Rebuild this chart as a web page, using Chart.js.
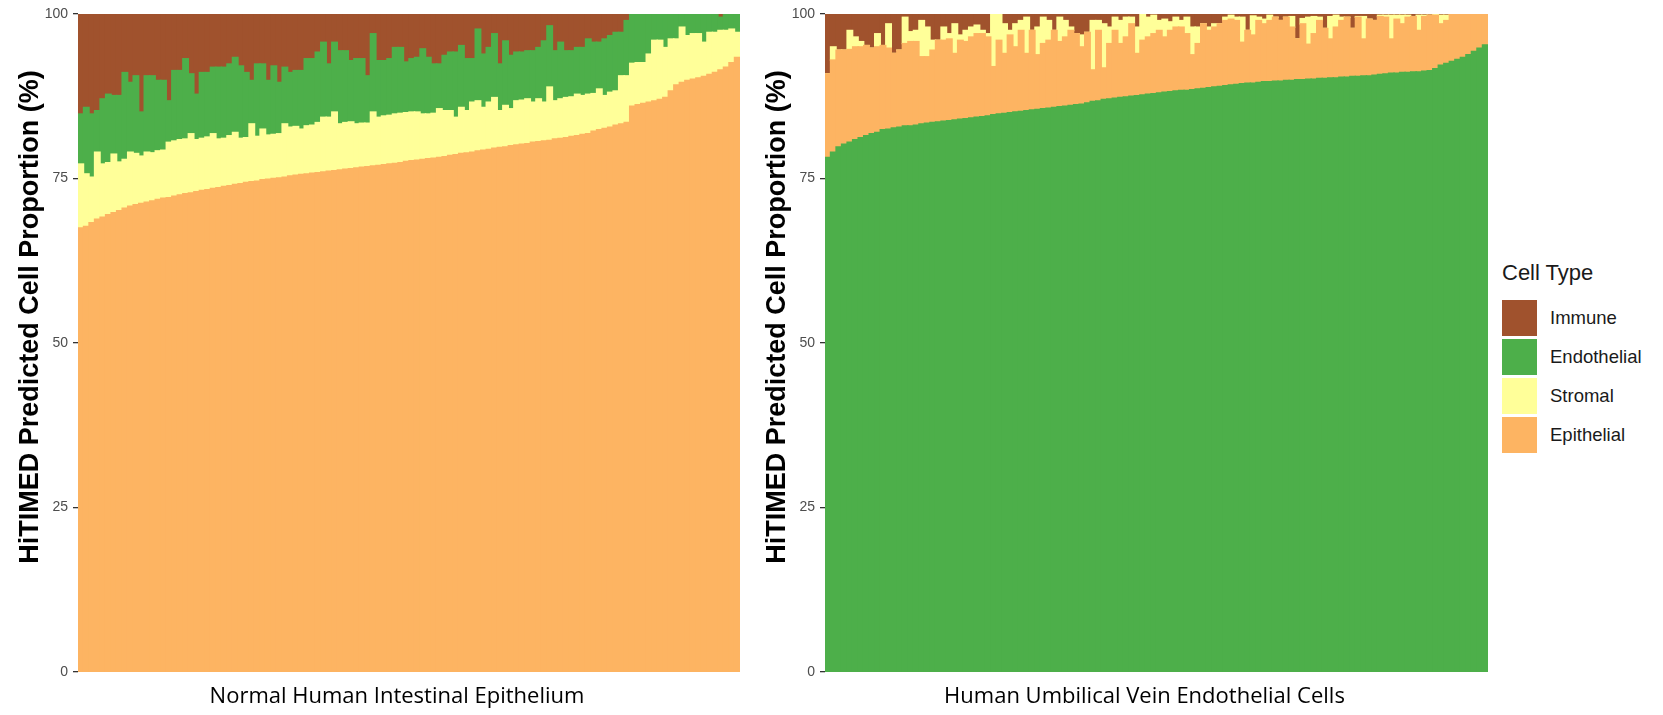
<!DOCTYPE html>
<html>
<head>
<meta charset="utf-8">
<script src="https://cdn.jsdelivr.net/npm/chart.js@4.4.0/dist/chart.umd.min.js"></script>
<style>
  body { margin: 0; background: #fff; width: 1663px; height: 715px; position: relative; overflow: hidden; font-family: "Liberation Sans", Arial, sans-serif; }
  .panel { position: absolute; top: 0; height: 715px; }
  #left-panel { left: 0; width: 745px; }
  #right-panel { left: 745px; width: 745px; }
  #legend { position: absolute; left: 1502px; top: 258px; color: #1a1a1a; }
  #legend .title { font-size: 22px; height: 40px; line-height: 30px; }
  #legend .row { display: flex; align-items: center; height: 39px; }
  #legend .key { width: 35px; height: 36px; margin-right: 13px; }
  #legend .label { font-size: 18.5px; }
</style>
</head>
<body>
<div class="panel" id="left-panel"><canvas id="left-chart"></canvas></div>
<div class="panel" id="right-panel"><canvas id="right-chart"></canvas></div>
<div id="legend"></div>
<script>
// Cell type colours
const cellColors = {
  Immune: "#A0522D",
  Endothelial: "#4DAF4A",
  Stromal: "#FFFF99",
  Epithelial: "#FDB462",
};
const legendOrder = ["Immune", "Endothelial", "Stromal", "Epithelial"];

// Normal Human Intestinal Epithelium, one value per sample (%)
const leftEpithelial = [
  67.5, 67.7, 68.3, 68.8, 69.1, 69.5, 69.8, 70.1, 70.5, 70.8,
  71.0, 71.2, 71.4, 71.6, 71.8, 72.0, 72.1, 72.3, 72.5, 72.7,
  72.8, 73.0, 73.2, 73.3, 73.5, 73.6, 73.8, 73.9, 74.1, 74.2,
  74.4, 74.5, 74.6, 74.8, 74.9, 75.0, 75.1, 75.2, 75.4, 75.5,
  75.6, 75.7, 75.8, 75.9, 76.0, 76.1, 76.2, 76.3, 76.4, 76.5,
  76.6, 76.7, 76.8, 76.9, 77.0, 77.1, 77.2, 77.3, 77.4, 77.6,
  77.7, 77.8, 77.9, 78.0, 78.1, 78.2, 78.3, 78.5, 78.6, 78.8,
  78.9, 79.0, 79.2, 79.3, 79.4, 79.6, 79.7, 79.8, 80.0, 80.1,
  80.2, 80.3, 80.5, 80.6, 80.7, 80.8, 81.0, 81.1, 81.2, 81.4,
  81.5, 81.7, 81.8, 82.2, 82.4, 82.6, 82.8, 83.1, 83.3, 83.5,
  86.0, 86.2, 86.4, 86.6, 86.8, 87.0, 87.3, 88.3, 89.2, 89.6,
  89.9, 90.1, 90.3, 90.5, 90.8, 91.1, 91.5, 91.9, 92.6, 93.4,
];
const leftStromal = [
  9.7, 8.0, 6.9, 10.2, 8.1, 7.9, 8.9, 7.4, 7.4, 8.2,
  7.8, 7.2, 7.6, 7.3, 7.4, 7.3, 8.4, 8.4, 8.4, 8.3,
  9.0, 7.9, 7.9, 8.0, 8.3, 7.4, 7.3, 7.6, 7.9, 6.9,
  6.8, 8.8, 6.8, 7.7, 6.7, 6.7, 6.7, 8.1, 7.4, 7.4,
  6.9, 7.3, 7.3, 7.6, 8.3, 8.2, 8.9, 7.0, 7.1, 7.1,
  6.7, 6.7, 6.6, 8.2, 7.3, 7.4, 7.4, 7.5, 7.5, 7.4,
  7.4, 7.3, 6.9, 6.8, 6.8, 7.4, 7.0, 6.8, 5.7, 7.0,
  6.4, 7.6, 7.6, 6.5, 7.2, 7.7, 5.6, 6.3, 5.6, 6.7,
  6.7, 6.8, 6.1, 6.5, 5.9, 8.1, 5.8, 6.0, 6.1, 6.0,
  6.3, 5.9, 6.0, 5.7, 6.2, 5.0, 5.3, 5.2, 7.3, 7.1,
  6.5, 6.4, 6.2, 7.3, 9.2, 9.0, 7.6, 7.9, 7.0, 8.4,
  6.8, 6.9, 6.7, 5.2, 6.4, 6.1, 6.0, 5.6, 5.1, 3.8,
];
const leftEndothelial = [
  7.6, 10.1, 9.6, 6.3, 9.9, 10.4, 8.9, 10.1, 13.2, 10.6,
  11.8, 6.7, 11.6, 11.7, 10.7, 10.6, 6.3, 10.7, 10.5, 12.2,
  9.1, 6.9, 10.0, 9.8, 10.1, 10.9, 10.8, 10.9, 11.4, 11.0,
  9.9, 6.6, 11.0, 9.9, 8.3, 10.4, 7.8, 8.6, 8.3, 8.5,
  8.9, 10.2, 10.1, 10.7, 11.4, 8.1, 10.6, 11.1, 10.9, 9.3,
  9.9, 9.8, 7.2, 11.9, 8.6, 8.4, 8.6, 10.1, 10.0, 7.7,
  8.1, 8.3, 9.9, 8.6, 7.5, 6.8, 8.4, 8.9, 9.9, 9.4,
  7.9, 6.6, 10.9, 8.1, 8.3, 9.7, 7.1, 9.8, 8.1, 7.4,
  7.3, 7.3, 7.8, 7.8, 9.3, 9.3, 7.6, 8.6, 7.1, 7.0,
  7.1, 7.3, 8.4, 7.8, 7.1, 8.6, 8.6, 8.9, 6.6, 8.4,
  7.5, 7.4, 7.4, 6.1, 4.0, 4.0, 5.1, 3.8, 3.8, 2.0,
  3.3, 3.0, 3.0, 4.3, 2.8, 2.8, 2.0, 2.5, 2.3, 2.8,
];
const leftImmune = [
  15.2, 14.2, 15.2, 14.7, 12.9, 12.2, 12.4, 12.4, 8.9, 10.4,
  9.4, 14.9, 9.4, 9.4, 10.1, 10.1, 13.2, 8.6, 8.6, 6.8,
  9.1, 12.2, 8.9, 8.9, 8.1, 8.1, 8.1, 7.6, 6.6, 7.9,
  8.9, 10.1, 7.6, 7.6, 10.1, 7.9, 10.4, 8.1, 8.9, 8.6,
  8.6, 6.8, 6.8, 5.8, 4.3, 7.6, 4.3, 5.6, 5.6, 7.1,
  6.8, 6.8, 9.4, 3.0, 7.1, 7.1, 6.8, 5.1, 5.1, 7.3,
  6.8, 6.6, 5.3, 6.6, 7.6, 7.6, 6.3, 5.8, 5.8, 4.8,
  6.8, 6.8, 2.3, 6.1, 5.1, 3.0, 7.6, 4.1, 6.3, 5.8,
  5.8, 5.6, 5.6, 5.1, 4.1, 1.8, 5.6, 4.3, 5.6, 5.6,
  5.1, 5.1, 3.8, 4.3, 4.3, 3.8, 3.3, 2.8, 2.8, 1.0,
  0, 0, 0, 0, 0, 0, 0, 0, 0, 0,
  0, 0, 0, 0, 0, 0, 0.5, 0, 0, 0,
];

// Human Umbilical Vein Endothelial Cells, one value per sample (%)
const rightEndothelial = [
  78.2, 79.0, 79.8, 80.2, 80.5, 80.9, 81.2, 81.5, 81.8, 82.0,
  82.4, 82.5, 82.7, 82.8, 83.0, 83.0, 83.1, 83.3, 83.4, 83.5,
  83.6, 83.7, 83.8, 83.9, 84.0, 84.1, 84.2, 84.3, 84.4, 84.5,
  84.7, 84.8, 84.9, 85.0, 85.1, 85.2, 85.3, 85.4, 85.5, 85.6,
  85.7, 85.8, 85.9, 86.0, 86.1, 86.2, 86.3, 86.5, 86.7, 86.8,
  87.0, 87.1, 87.2, 87.3, 87.4, 87.5, 87.6, 87.7, 87.8, 87.9,
  88.0, 88.1, 88.2, 88.3, 88.4, 88.4, 88.5, 88.6, 88.7, 88.8,
  88.9, 89.0, 89.1, 89.2, 89.3, 89.4, 89.5, 89.5, 89.6, 89.7,
  89.7, 89.8, 89.8, 89.9, 89.9, 90.0, 90.0, 90.1, 90.1, 90.2,
  90.2, 90.3, 90.3, 90.4, 90.4, 90.5, 90.5, 90.6, 90.6, 90.7,
  90.8, 90.9, 91.0, 91.0, 91.1, 91.1, 91.2, 91.2, 91.3, 91.4,
  91.7, 92.2, 92.5, 92.8, 93.1, 93.4, 93.8, 94.3, 94.8, 95.3,
];
const rightEpithelial = [
  12.7, 14.0, 14.7, 14.3, 14.1, 14.1, 13.8, 13.7, 13.0, 13.0,
  12.8, 12.3, 11.3, 11.7, 12.5, 12.8, 12.7, 10.2, 10.1, 11.0,
  12.4, 12.3, 12.4, 10.1, 12.0, 11.7, 12.3, 12.7, 12.6, 12.0,
  7.3, 11.2, 9.1, 11.8, 9.9, 12.3, 8.7, 12.1, 8.3, 9.9,
  10.3, 11.7, 9.9, 10.5, 11.4, 10.8, 8.7, 10.7, 4.8, 10.7,
  4.8, 8.4, 10.3, 8.2, 9.1, 11.0, 6.4, 8.3, 8.7, 9.1,
  9.5, 8.4, 9.3, 9.7, 9.6, 8.6, 5.3, 6.9, 9.8, 8.7,
  9.1, 9.5, 9.9, 10.0, 9.7, 6.3, 8.0, 7.3, 9.4, 8.8,
  9.3, 9.7, 9.2, 9.6, 8.1, 6.2, 8.5, 5.3, 6.9, 8.8,
  7.6, 5.9, 7.7, 8.6, 9.1, 7.3, 9.0, 5.6, 8.6, 8.3,
  8.8, 8.6, 5.2, 8.2, 7.4, 8.4, 8.4, 6.3, 8.3, 8.4,
  8.1, 6.3, 6.5, 7.2, 6.9, 6.6, 6.2, 5.7, 5.2, 4.7,
];
const rightStromal = [
  0, 2.0, 0, 0, 2.9, 1.5, 0.8, 0, 0, 2.0,
  0, 3.7, 0, 0, 4.0, 1.5, 1.7, 5.5, 4.5, 1.5,
  0, 2.0, 0.8, 4.5, 0.8, 1.7, 1.5, 1.3, 0.5, 0.5,
  8.0, 4.0, 4.5, 0.7, 3.5, 1.5, 5.5, 0, 4.2, 4.0,
  3.0, 0, 3.7, 2.5, 0.5, 0, 1.8, 0, 7.5, 1.5,
  6.7, 2.5, 2.0, 3.5, 3.0, 1.0, 4.0, 4.0, 3.0, 2.8,
  1.5, 2.7, 1.3, 1.5, 1.0, 2.5, 4.2, 2.5, 0, 0.5,
  0.5, 0, 0.5, 0.6, 0.5, 3.8, 0, 2.9, 0.5, 0.7,
  0.8, 0, 0, 0, 1.6, 0, 0.8, 4.1, 2.6, 0.5,
  0, 3.4, 1.8, 0.5, 0, 0, 0.1, 3.4, 0, 0,
  0.2, 0.3, 3.6, 0.6, 1.3, 0.3, 0, 2.3, 0.2, 0,
  0.2, 1.3, 0.8, 0, 0, 0, 0, 0, 0, 0,
];
const rightImmune = [
  9.1, 5.0, 5.5, 5.5, 2.5, 3.5, 4.2, 4.8, 5.2, 3.0,
  4.8, 1.5, 6.0, 5.5, 0.5, 2.7, 2.5, 1.0, 2.0, 4.0,
  4.0, 2.0, 3.0, 1.5, 3.2, 2.5, 2.0, 1.7, 2.5, 3.0,
  0, 0, 1.5, 2.5, 1.5, 1.0, 0.5, 2.5, 2.0, 0.5,
  1.0, 2.5, 0.5, 1.0, 2.0, 3.0, 3.2, 2.8, 1.0, 1.0,
  1.5, 2.0, 0.5, 1.0, 0.5, 0.5, 2.0, 0, 0.5, 0.2,
  1.0, 0.8, 1.2, 0.5, 1.0, 0.5, 2.0, 2.0, 1.5, 2.0,
  1.5, 1.5, 0.5, 0.2, 0.5, 0.5, 2.5, 0.3, 0.5, 0.8,
  0.2, 0.5, 1.0, 0.5, 0.4, 3.8, 0.7, 0.5, 0.4, 0.5,
  2.2, 0.4, 0.2, 0.5, 0.5, 2.2, 0.4, 0.4, 0.8, 1.0,
  0.2, 0.2, 0.2, 0.2, 0.2, 0.2, 0.4, 0.2, 0.2, 0.2,
  0, 0.2, 0.2, 0, 0, 0, 0, 0, 0, 0,
];

const yTicks = [0, 25, 50, 75, 100];

// Draws the axis titles where ggplot put them
const axisTitles = {
  id: "axisTitles",
  afterDraw(chart, args, opts) {
    const { ctx, chartArea } = chart;
    ctx.save();
    ctx.fillStyle = "#000";
    ctx.textAlign = "center";
    ctx.textBaseline = "middle";
    ctx.font = '22px "Open Sans"';
    ctx.fillText(opts.x, (chartArea.left + chartArea.right) / 2 - 12, 697);
    ctx.translate(chartArea.left - 47, 317);
    ctx.rotate(-Math.PI / 2);
    ctx.font = 'bold 27px "Liberation Sans"';
    ctx.fillText(opts.y, 0, 0);
    ctx.restore();
  },
};

const makeChart = (canvasId, series, xTitle, axisWidth, rightPad) => {
  const labels = series[0].data.map((_, i) => "S" + (i + 1));
  return new Chart(document.getElementById(canvasId), {
    type: "bar",
    plugins: [axisTitles],
    data: {
      labels: labels,
      datasets: series.map((s) => ({
        label: s.name,
        data: s.data,
        backgroundColor: cellColors[s.name],
        borderWidth: 0,
        inflateAmount: 0.7,
        barPercentage: 1,
        categoryPercentage: 1,
      })),
    },
    options: {
      responsive: true,
      maintainAspectRatio: false,
      animation: false,
      layout: { padding: { top: 14, right: rightPad, bottom: 0, left: 0 } },
      plugins: {
        legend: { display: false },
        tooltip: { enabled: false },
        axisTitles: { x: xTitle, y: "HiTIMED Predicted Cell Proportion (%)" },
      },
      scales: {
        x: {
          stacked: true,
          grid: { display: false },
          border: { display: false },
          ticks: { display: false },
          afterFit: (scale) => { scale.height = 43; },
        },
        y: {
          stacked: true,
          min: 0,
          max: 100,
          border: { display: false },
          grid: { drawOnChartArea: false, drawTicks: true, tickLength: 5, color: "#333333", lineWidth: 1.3 },
          ticks: {
            stepSize: 25,
            padding: 5,
            color: "#4D4D4D",
            font: { family: "Liberation Sans", size: 14 },
          },
          afterBuildTicks: (scale) => { scale.ticks = yTicks.map((v) => ({ value: v })); },
          afterFit: (scale) => { scale.width = axisWidth; },
        },
      },
    },
  });
};

// Left panel stacks epithelial at the bottom, right panel endothelial
makeChart("left-chart", [
  { name: "Epithelial", data: leftEpithelial },
  { name: "Stromal", data: leftStromal },
  { name: "Endothelial", data: leftEndothelial },
  { name: "Immune", data: leftImmune },
], "Normal Human Intestinal Epithelium", 78, 5);

makeChart("right-chart", [
  { name: "Endothelial", data: rightEndothelial },
  { name: "Epithelial", data: rightEpithelial },
  { name: "Stromal", data: rightStromal },
  { name: "Immune", data: rightImmune },
], "Human Umbilical Vein Endothelial Cells", 80, 2);

// Shared legend
const legend = document.getElementById("legend");
legend.innerHTML = '<div class="title">Cell Type</div>' + legendOrder
  .map((name) => `<div class="row"><div class="key" style="background:${cellColors[name]}"></div><div class="label">${name}</div></div>`)
  .join("");
</script>
</body>
</html>
